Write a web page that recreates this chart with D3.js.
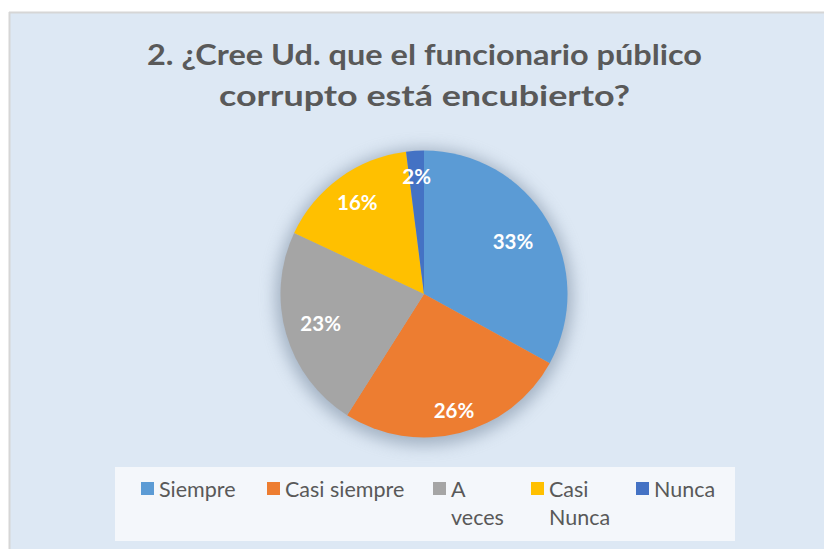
<!DOCTYPE html>
<html><head><meta charset="utf-8">
<script src="https://cdn.jsdelivr.net/npm/d3@7"></script>
<style>html,body{margin:0;padding:0;background:#fff;}svg{display:block;}</style>
</head><body>
<script>
const categories = ["Siempre", "Casi siempre", "A veces", "Casi Nunca", "Nunca"];
const values = [33, 26, 23, 16, 2];
const colors = ["#5b9bd5", "#ed7d31", "#a5a5a5", "#ffc000", "#4472c4"];
const legendLines = [["Siempre"], ["Casi siempre"], ["A", "veces"], ["Casi", "Nunca"], ["Nunca"]];
const titleLines = ["2. ¿Cree Ud. que el funcionario público", "corrupto está encubierto?"];
const labelRadiusFactor = [0.72, 0.84, 0.75, 0.79, 0.82];

const W = 824, H = 549;
const svg = d3.select("body").append("svg").attr("width", W).attr("height", H);
const defs = svg.append("defs");
const f = defs.append("filter").attr("id", "sh").attr("x", "-30%").attr("y", "-30%").attr("width", "160%").attr("height", "160%");
f.append("feGaussianBlur").attr("stdDeviation", 8);

// chart area
svg.append("rect").attr("x", 9).attr("y", 12).attr("width", W - 9).attr("height", H - 12)
  .attr("fill", "#dde8f4");
svg.append("line").attr("x1", 9).attr("x2", W).attr("y1", 12.5).attr("y2", 12.5).attr("stroke", "#d6d6d6").attr("stroke-width", 2);
svg.append("line").attr("x1", 9.5).attr("x2", 9.5).attr("y1", 12).attr("y2", H).attr("stroke", "#d6d6d6").attr("stroke-width", 2);

// title
const title = svg.append("text").attr("text-anchor", "middle")
  .attr("font-family", "Lato, 'Open Sans', sans-serif").attr("font-weight", "bold")
  .attr("font-size", 29).attr("fill", "#595959");
const titleW = [555, 411];
titleLines.forEach((t, i) => {
  title.append("tspan").attr("x", 424.5).attr("y", 65 + i * 41).text(t)
    .attr("textLength", titleW[i]).attr("lengthAdjust", "spacingAndGlyphs");
});

// pie
const cx = 424, cy = 294, r = 143.5;
const g = svg.append("g").attr("transform", `translate(${cx},${cy})`);
g.append("circle").attr("r", r + 5).attr("cy", 3).attr("fill", "#7d8ea3").attr("opacity", 0.6).attr("filter", "url(#sh)");
const pie = d3.pie().sort(null).value(d => d)(values);
const arc = d3.arc().innerRadius(0).outerRadius(r);
g.selectAll("path.s").data(pie).join("path").attr("class", "s")
  .attr("d", arc).attr("fill", (d, i) => colors[i]);

const total = d3.sum(values);
g.selectAll("text.l").data(pie).join("text").attr("class", "l")
  .attr("transform", (d, i) => {
    const a = (d.startAngle + d.endAngle) / 2;
    const rr = r * labelRadiusFactor[i];
    return `translate(${Math.sin(a) * rr},${-Math.cos(a) * rr})`;
  })
  .attr("text-anchor", "middle").attr("dy", "0.36em")
  .attr("font-family", "Lato, 'Open Sans', sans-serif").attr("font-weight", "bold")
  .attr("font-size", 20.5).attr("fill", "#fff")
  .text(d => Math.round(d.value / total * 100) + "%");

// legend
svg.append("rect").attr("x", 115).attr("y", 467).attr("width", 620).attr("height", 74).attr("fill", "#f4f7fb");
const legX = [141, 267, 433, 531, 636];
const lg = svg.append("g");
categories.forEach((c, i) => {
  lg.append("rect").attr("x", legX[i]).attr("y", 482).attr("width", 13).attr("height", 13).attr("fill", colors[i]);
  const t = lg.append("text").attr("font-family", "Lato, 'Open Sans', sans-serif")
    .attr("font-size", 21.5).attr("fill", "#595959");
  legendLines[i].forEach((ln, j) => {
    t.append("tspan").attr("x", legX[i] + 18).attr("y", 497 + j * 28).text(ln);
  });
});
</script>
</body></html>
